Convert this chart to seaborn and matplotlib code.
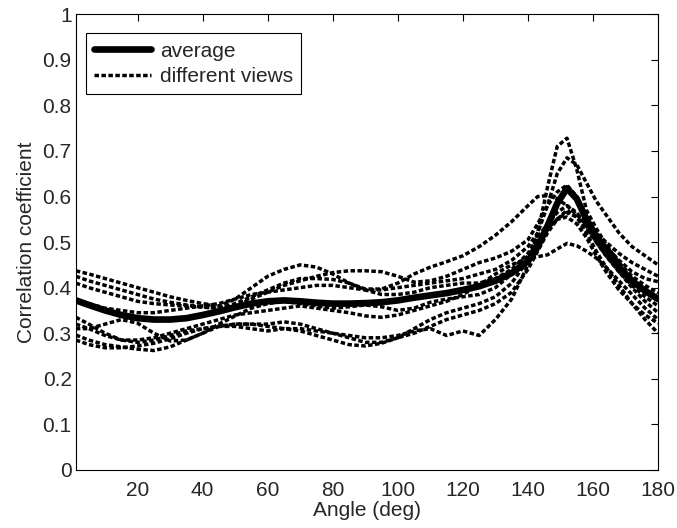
import numpy as np
import pandas as pd
import matplotlib
matplotlib.use('Agg')
import matplotlib.pyplot as plt
import seaborn as sns

# --- data ---
ANGLE = [1, 5, 10, 15, 20, 25, 30, 35, 40, 45, 50, 55, 60, 65, 70, 75, 80, 85, 90, 95,
         100, 105, 110, 115, 120, 125, 130, 135, 140, 143, 146, 149, 152, 155, 158, 161, 164,
         168, 172, 176, 180]

AVERAGE = [.372, .362, .350, .340, .333, .330, .330, .333, .340, .348, .357, .365, .370, .372,
           .370, .367, .365, .365, .366, .368, .372, .378, .383, .388, .395, .403, .415, .432,
           .458, .490, .535, .585, .618, .595, .550, .510, .480, .445, .415, .393, .375]

VIEW_A = [.320, .310, .295, .285, .280, .285, .295, .305, .310, .315, .320, .320, .315, .310,
          .310, .305, .300, .295, .290, .290, .295, .305, .310, .295, .305, .295, .330, .375,
          .450, .520, .620, .710, .728, .660, .570, .530, .495, .455, .425, .405, .388]
VIEW_B = [.375, .365, .355, .350, .345, .345, .350, .355, .360, .365, .375, .385, .390, .395,
          .400, .405, .405, .400, .395, .395, .400, .405, .410, .415, .420, .430, .440, .460,
          .490, .520, .580, .650, .685, .670, .630, .590, .560, .520, .490, .470, .450]
VIEW_C = [.437, .430, .420, .410, .400, .390, .380, .372, .365, .360, .375, .400, .425, .440,
          .450, .445, .430, .410, .397, .397, .410, .430, .445, .457, .470, .490, .515, .545,
          .580, .600, .602, .595, .580, .560, .540, .520, .500, .475, .455, .440, .425]
VIEW_D = [.425, .415, .405, .395, .385, .375, .368, .362, .358, .355, .360, .375, .390, .405,
          .415, .425, .433, .437, .437, .435, .425, .412, .415, .425, .440, .455, .465, .480,
          .505, .540, .580, .610, .625, .600, .555, .520, .490, .460, .435, .420, .413]
VIEW_E = [.410, .400, .390, .380, .370, .365, .362, .360, .357, .355, .365, .380, .395, .410,
          .420, .420, .418, .410, .395, .385, .385, .390, .400, .405, .410, .410, .420, .440,
          .475, .510, .540, .565, .580, .565, .535, .500, .470, .435, .405, .380, .360]
VIEW_F = [.335, .320, .300, .285, .285, .290, .300, .310, .320, .330, .340, .345, .350, .355,
          .360, .355, .350, .345, .338, .335, .340, .350, .360, .370, .385, .405, .430, .450,
          .465, .468, .472, .485, .497, .492, .480, .465, .445, .415, .385, .355, .330]
VIEW_G = [.310, .310, .320, .330, .322, .300, .283, .285, .300, .320, .338, .355, .365, .370,
          .365, .360, .355, .358, .362, .358, .350, .355, .368, .375, .380, .385, .400, .430,
          .470, .500, .530, .550, .565, .555, .530, .500, .470, .435, .400, .370, .345]
VIEW_H = [.296, .285, .275, .270, .265, .262, .270, .285, .300, .315, .320, .320, .320, .325,
          .320, .310, .300, .290, .280, .280, .290, .300, .315, .330, .340, .350, .365, .390,
          .440, .480, .520, .550, .570, .555, .520, .480, .445, .405, .365, .330, .300]
VIEW_I = [.285, .275, .268, .268, .272, .278, .288, .300, .310, .315, .315, .310, .305, .310,
          .305, .295, .285, .275, .272, .278, .290, .310, .330, .345, .355, .365, .380, .410,
          .460, .500, .530, .550, .555, .540, .510, .470, .435, .395, .365, .340, .322]

VIEWS = [VIEW_A, VIEW_B, VIEW_C, VIEW_D, VIEW_E, VIEW_F, VIEW_G, VIEW_H, VIEW_I]

X_TICKS = [20, 40, 60, 80, 100, 120, 140, 160, 180]
Y_TICKS = [0, 0.1, 0.2, 0.3, 0.4, 0.5, 0.6, 0.7, 0.8, 0.9, 1]
Y_TICK_LABELS = ['0', '0.1', '0.2', '0.3', '0.4', '0.5', '0.6', '0.7', '0.8', '0.9', '1']

# --- style: matlab-ish look ---
sns.set_style('white')
plt.rcParams['font.family'] = ['Liberation Sans', 'DejaVu Sans']
plt.rcParams['xtick.direction'] = 'in'
plt.rcParams['ytick.direction'] = 'in'

fig, ax = plt.subplots(figsize=(6.77, 5.28), dpi=100)
fig.subplots_adjust(left=0.112, right=0.972, bottom=0.110, top=0.973)

dotted = (0, (1.3, 0.7))
for i, vals in enumerate(VIEWS):
    sns.lineplot(x=ANGLE, y=vals, ax=ax, color='black', linewidth=2.5,
                 linestyle=dotted, label='different views' if i == 0 else None,
                 legend=False)

sns.lineplot(x=ANGLE, y=AVERAGE, ax=ax, color='black', linewidth=4.8,
             label='average', legend=False)

ax.set_xlim(1, 180)
ax.set_ylim(0, 1)
ax.set_xticks(X_TICKS)
ax.set_yticks(Y_TICKS)
ax.set_yticklabels(Y_TICK_LABELS)
ax.tick_params(axis='both', labelsize=15, length=5, width=0.8, color='black',
               top=True, right=True, pad=3)
ax.tick_params(axis='x', pad=8)
ax.set_xlabel('Angle (deg)', fontsize=15, labelpad=1)
ax.set_ylabel('Correlation coefficient', fontsize=15, labelpad=5)

for sp in ax.spines.values():
    sp.set_color('black')
    sp.set_linewidth(0.8)

# legend: average first, then the views
handles, labels = ax.get_legend_handles_labels()
order = [labels.index('average'), labels.index('different views')]
leg = ax.legend([handles[k] for k in order], [labels[k] for k in order],
                loc='upper left', bbox_to_anchor=(0.017, 0.958), fontsize=15,
                frameon=True, fancybox=False, edgecolor='black', framealpha=1,
                handlelength=2.75, handletextpad=0.4, borderpad=0.4,
                labelspacing=0.3, borderaxespad=0)
leg.get_frame().set_linewidth(0.8)

fig.savefig('out.png', dpi=100)
